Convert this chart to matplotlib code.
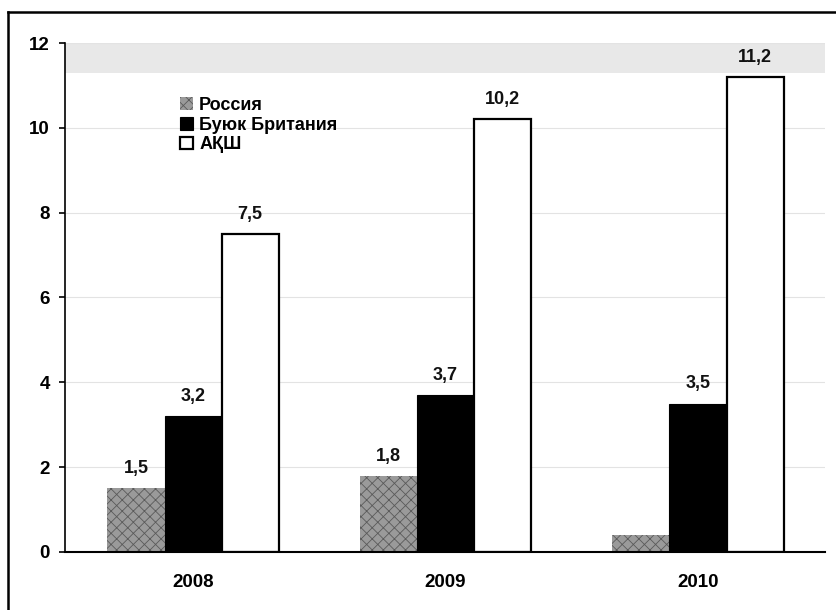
import matplotlib.pyplot as plt
from matplotlib.lines import Line2D
import numpy as np

plt.rcParams["font.family"] = ["Liberation Sans", "DejaVu Sans"]
plt.rcParams["font.weight"] = "bold"
plt.rcParams["hatch.linewidth"] = 0.6

years = ["2008", "2009", "2010"]
series_names = ["Россия", "Буюк Британия", "АҚШ"]
russia = [1.5, 1.8, 0.4]
britain = [3.2, 3.7, 3.5]
usa = [7.5, 10.2, 11.2]
# the small 2010 Russia bar carries no printed value
russia_labels = ["1,5", "1,8", ""]
yticks = [0, 2, 4, 6, 8, 10, 12]


def fmt(vals):
    return [f"{v:.1f}".replace(".", ",") for v in vals]


fig = plt.figure(figsize=(8.37, 6.10), dpi=100)
ax = fig.add_axes([0.0777, 0.0951, 0.908, 0.8344])

x = np.arange(len(years))
w = 0.226
b1 = ax.bar(x - w, russia, w, color="#9a9a9a", edgecolor="#5a5a5a",
            hatch="xxx", linewidth=0, label=series_names[0])
b2 = ax.bar(x, britain, w, color="black", edgecolor="black",
            linewidth=0.8, label=series_names[1])
b3 = ax.bar(x + w, usa, w, color="white", edgecolor="black",
            linewidth=1.6, label=series_names[2])

lab_kw = dict(padding=8, fontsize=13, fontweight="bold", color="#111111")
ax.bar_label(b1, labels=russia_labels, **lab_kw)
ax.bar_label(b2, labels=fmt(britain), **lab_kw)
ax.bar_label(b3, labels=fmt(usa), **lab_kw)

ax.set_ylim(0, 12)
ax.set_xlim(-0.507, 2.503)
ax.set_yticks(yticks)
ax.set_yticklabels([str(t) for t in yticks])
ax.set_xticks(x)
ax.set_xticklabels(years)
ax.tick_params(axis="y", length=4, width=1.2, pad=7, labelsize=13.5)
ax.tick_params(axis="x", length=0, pad=16, labelsize=13.5)

for s in ("top", "right"):
    ax.spines[s].set_visible(False)
ax.spines["left"].set_linewidth(1.2)
ax.spines["bottom"].set_linewidth(1.5)
ax.yaxis.grid(True, color="#e3e3e3", linewidth=0.8)
ax.set_axisbelow(True)

# soft background band along the top of the plot
ax.axhspan(11.3, 12, color="#e8e8e8", zorder=0, linewidth=0)

leg = ax.legend(loc="upper left", bbox_to_anchor=(0.142, 0.908), frameon=False,
                fontsize=13, handlelength=0.7, handleheight=0.7,
                handletextpad=0.35, labelspacing=0.15, borderaxespad=0)
for t in leg.get_texts():
    t.set_fontweight("bold")

# outer frame of the figure
fig.add_artist(Line2D([0.0096, 0.0096], [0.0, 0.980], color="black", linewidth=1.8))
fig.add_artist(Line2D([0.0096, 1.0], [0.980, 0.980], color="black", linewidth=1.8))

fig.savefig("out.png", dpi=100)
